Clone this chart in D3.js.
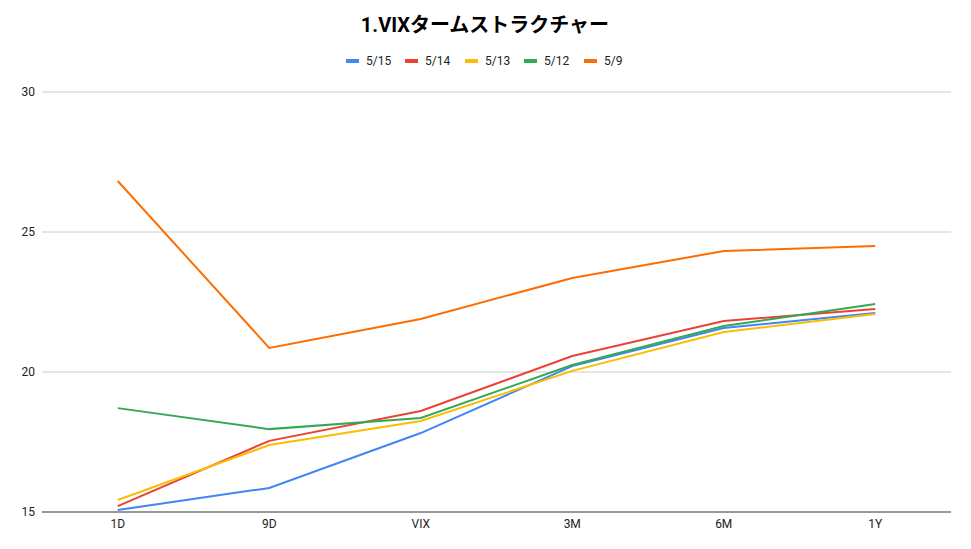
<!DOCTYPE html>
<html><head><meta charset="utf-8">
<script src="https://cdn.jsdelivr.net/npm/d3@7"></script>
<style>body{margin:0;background:#fff;font-family:Roboto,"Noto Sans CJK JP",sans-serif}</style>
</head><body><svg id="c" width="971" height="549"></svg>
<script>
const categories = ["1D", "9D", "VIX", "3M", "6M", "1Y"];
const seriesNames = ["5/15", "5/14", "5/13", "5/12", "5/9"];
const colors = ["#4285f4", "#ea4335", "#fbbc04", "#34a853", "#ff6d01"];
const s515 = [15.07, 15.86, 17.82, 20.21, 21.57, 22.11];
const s514 = [15.21, 17.54, 18.61, 20.57, 21.82, 22.25];
const s513 = [15.43, 17.39, 18.25, 20.04, 21.43, 22.07];
const s512 = [18.71, 17.96, 18.36, 20.25, 21.64, 22.43];
const s509 = [26.82, 20.86, 21.89, 23.36, 24.32, 24.5];
const yTicks = [15, 20, 25, 30];
const series = [s515, s514, s513, s512, s509];

const svg = d3.select("#c");
const x = d3.scaleBand().domain(categories).range([42, 951]);
const y = d3.scaleLinear().domain([15, 30]).range([512, 92]);

svg.append("text").attr("x", 485).attr("y", 32).attr("text-anchor", "middle")
  .attr("font-size", 20).attr("font-weight", "bold").attr("fill", "#000")
  .text("1.VIXタームストラクチャー");

// legend
const lg = svg.append("g");
const lx = [346, 405, 465, 524, 584];
seriesNames.forEach((n, i) => {
  lg.append("rect").attr("x", lx[i]).attr("y", 59).attr("width", 13).attr("height", 4).attr("fill", colors[i]);
  lg.append("text").attr("x", lx[i] + 20).attr("y", 65).attr("font-size", 12).attr("fill", "#222").text(n);
});

yTicks.forEach(t => {
  svg.append("line").attr("x1", 42).attr("x2", 951).attr("y1", y(t)).attr("y2", y(t))
    .attr("stroke", t === 15 ? "#333" : "#ccc").attr("stroke-width", 1);
  svg.append("text").attr("x", 35).attr("y", y(t) + 4).attr("text-anchor", "end")
    .attr("font-size", 12).attr("fill", "#222").text(t);
});
categories.forEach(c => {
  svg.append("text").attr("x", x(c) + x.bandwidth() / 2).attr("y", 528).attr("text-anchor", "middle")
    .attr("font-size", 12).attr("fill", "#222").text(c);
});

const line = d3.line().x((d, i) => x(categories[i]) + x.bandwidth() / 2).y(d => y(d));
series.forEach((s, i) => {
  svg.append("path").attr("d", line(s)).attr("fill", "none")
    .attr("stroke", colors[i]).attr("stroke-width", 2);
});
</script></body></html>
